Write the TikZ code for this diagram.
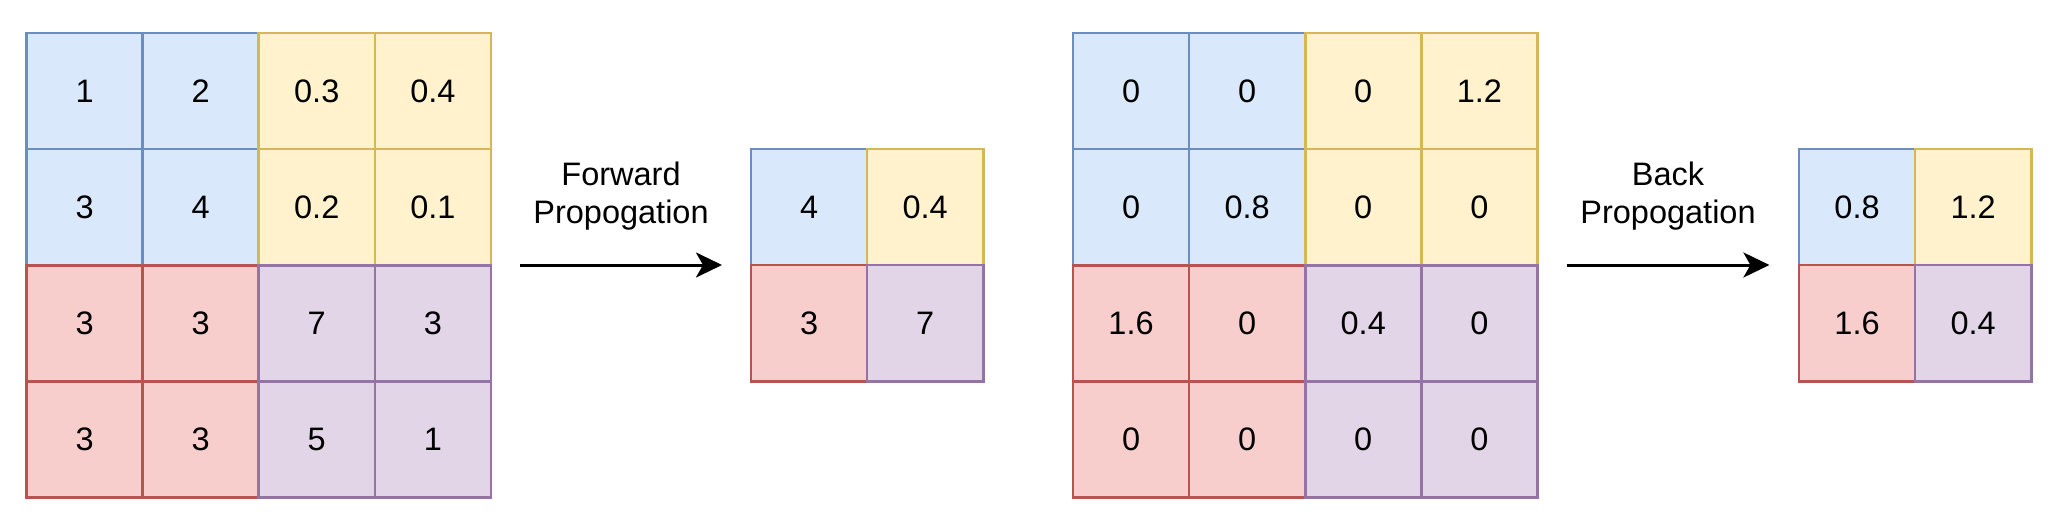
\documentclass[tikz,border=0pt]{standalone}
\usepackage{fontspec}
\setmainfont{Liberation Sans}
\usetikzlibrary{arrows.meta}
\definecolor{bluefill}{HTML}{DAE8FC}
\definecolor{bluedraw}{HTML}{6C8EBF}
\definecolor{yelfill}{HTML}{FFF2CC}
\definecolor{yeldraw}{HTML}{D6B656}
\definecolor{redfill}{HTML}{F8CECC}
\definecolor{reddraw}{HTML}{B85450}
\definecolor{purfill}{HTML}{E1D5E7}
\definecolor{purdraw}{HTML}{9673A6}
\begin{document}
\begin{tikzpicture}[x=1pt,y=-1pt,
  cell/.style={draw, line width=2.6pt, minimum size=116.1pt, inner sep=0pt,
    font=\fontsize{32.5}{39}\selectfont},
  bc/.style={cell, fill=bluefill, draw=bluedraw},
  yc/.style={cell, fill=yelfill, draw=yeldraw},
  rc/.style={cell, fill=redfill, draw=reddraw},
  pc/.style={cell, fill=purfill, draw=purdraw},
  arrowline/.style={line width=3pt, -{Stealth[length=26pt,width=25pt,inset=7pt]}},
  lbl/.style={inner sep=0pt, align=center, font=\fontsize{32.5}{38.7}\selectfont}]
\useasboundingbox (0,0) rectangle (2053,527);
% ---- Grid A (input) ----
\node[bc] (a11) at (84.55,91.05) {1};
\node[bc] (a12) at (200.65,91.05) {2};
\node[yc] (a13) at (316.75,91.05) {0.3};
\node[yc] (a14) at (432.85,91.05) {0.4};
\node[bc] (a21) at (84.55,207.15) {3};
\node[bc] (a22) at (200.65,207.15) {4};
\node[yc] (a23) at (316.75,207.15) {0.2};
\node[yc] (a24) at (432.85,207.15) {0.1};
\node[rc] (a31) at (84.55,323.25) {3};
\node[rc] (a32) at (200.65,323.25) {3};
\node[pc] (a33) at (316.75,323.25) {7};
\node[pc] (a34) at (432.85,323.25) {3};
\node[rc] (a41) at (84.55,439.35) {3};
\node[rc] (a42) at (200.65,439.35) {3};
\node[pc] (a43) at (316.75,439.35) {5};
\node[pc] (a44) at (432.85,439.35) {1};
% ---- Grid B (pooled) ----
\node[bc] (b11) at (809.05,207.05) {4};
\node[yc] (b12) at (925.15,207.05) {0.4};
\node[rc] (b21) at (809.05,323.15) {3};
\node[pc] (b22) at (925.15,323.15) {7};
% ---- Grid C (gradient) ----
\node[bc] (c11) at (1131.05,91.05) {0};
\node[bc] (c12) at (1247.15,91.05) {0};
\node[yc] (c13) at (1363.25,91.05) {0};
\node[yc] (c14) at (1479.35,91.05) {1.2};
\node[bc] (c21) at (1131.05,207.15) {0};
\node[bc] (c22) at (1247.15,207.15) {0.8};
\node[yc] (c23) at (1363.25,207.15) {0};
\node[yc] (c24) at (1479.35,207.15) {0};
\node[rc] (c31) at (1131.05,323.25) {1.6};
\node[rc] (c32) at (1247.15,323.25) {0};
\node[pc] (c33) at (1363.25,323.25) {0.4};
\node[pc] (c34) at (1479.35,323.25) {0};
\node[rc] (c41) at (1131.05,439.35) {0};
\node[rc] (c42) at (1247.15,439.35) {0};
\node[pc] (c43) at (1363.25,439.35) {0};
\node[pc] (c44) at (1479.35,439.35) {0};
% ---- Grid D (upstream gradient) ----
\node[bc] (d11) at (1857.05,207.05) {0.8};
\node[yc] (d12) at (1973.15,207.05) {1.2};
\node[rc] (d21) at (1857.05,323.15) {1.6};
\node[pc] (d22) at (1973.15,323.15) {0.4};
% ---- Arrows ----
\coordinate (f1) at (520,265);
\coordinate (f2) at (722,265);
\draw[arrowline] (f1) -- (f2);
\node[lbl, anchor=north] (fwd) at (621,161.5) {Forward\\Propogation};
\coordinate (g1) at (1566.6,265);
\coordinate (g2) at (1769.4,265);
\draw[arrowline] (g1) -- (g2);
\node[lbl, anchor=north] (bwd) at (1668,161.5) {Back\\Propogation};
\end{tikzpicture}
\end{document}
